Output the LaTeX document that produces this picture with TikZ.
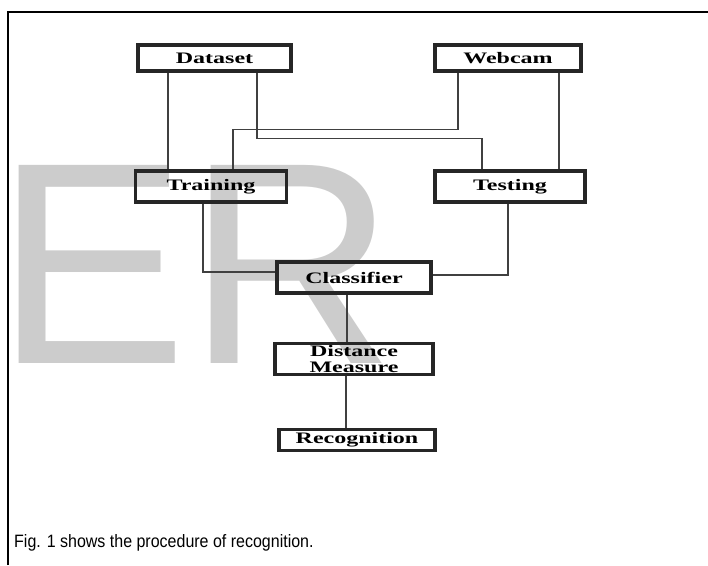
\documentclass[tikz,border=0pt]{standalone}
\usepackage{fontspec}
\usepackage{tikz}
\usetikzlibrary{calc}
\setmainfont{Liberation Serif}
\newfontfamily\boxfont[FakeStretch=1.5]{Liberation Serif Bold}
\newfontfamily\capfont{Liberation Sans}

\tikzset{
  procbox/.style={draw=black!85, line width=3.5pt, inner sep=0pt,
                  font=\boxfont\fontsize{16}{15.5}\selectfont, align=center},
  link/.style={draw=black!75, line width=1.2pt}
}

\begin{document}
\begin{tikzpicture}[x=1pt, y=-1pt]
    \useasboundingbox (0, 0) rectangle (708, 565);
    % watermark
    \node [text=black!20, inner sep=0pt, anchor=base west,
           font=\capfont\fontsize{288}{288}\selectfont] (wm) at (-5, 363) {ER};
    % frame
    \draw [line width=2pt] (8, 565) -- (8, 12) -- (708, 12);
    % boxes
    \node [procbox, minimum width=153pt, minimum height=26pt] (ds) at (214.5, 58)  {Dataset};
    \node [procbox, minimum width=146pt, minimum height=26pt] (wc) at (508, 58)    {Webcam};
    \node [procbox, minimum width=151pt, minimum height=31pt] (tr) at (211, 186.5) {Training};
    \node [procbox, minimum width=150pt, minimum height=31pt] (te) at (510, 186.5) {Testing};
    \node [procbox, minimum width=154pt, minimum height=31pt] (cl) at (354, 277.5) {Classifier};
    \node [procbox, minimum width=158pt, minimum height=31pt] (dm) at (354, 359)   {Distance\\Measure};
    \node [procbox, minimum width=156pt, minimum height=21pt] (rc) at (357, 440)   {Recognition};
    % Dataset
    \draw [link] ([xshift=-46.5pt]ds.south) -- ([xshift=-46.5pt]ds.south |- tr.north);
    \draw [link] ([xshift=42.5pt]ds.south) -- ++(0, 66) -| ([xshift=-28pt]te.north);
    % Webcam
    \draw [link] ([xshift=-50pt]wc.south) -- ++(0, 57) -| ([xshift=22pt]tr.north);
    \draw [link] ([xshift=51pt]wc.south) -- ([xshift=51pt]wc.south |- te.north);
    % Training, Testing
    \draw [link] ([xshift=-8pt]tr.south) |- ([yshift=5.5pt]cl.west);
    \draw [link] ([xshift=-2pt]te.south) |- ([yshift=2.5pt]cl.east);
    % Classifier
    \draw [link] ([xshift=-7pt]cl.south) -- ([xshift=-7pt]cl.south |- dm.north);
    \draw [link] ([xshift=-8pt]dm.south) -- ([xshift=-8pt]dm.south |- rc.north);
    % caption
    \node [inner sep=0pt, anchor=base west, font=\capfont\fontsize{16}{19}\selectfont]
          (cap) at (14, 547) {\scalebox{1}[1.12]{Fig. 1 shows the procedure of recognition.}};
\end{tikzpicture}
\end{document}
